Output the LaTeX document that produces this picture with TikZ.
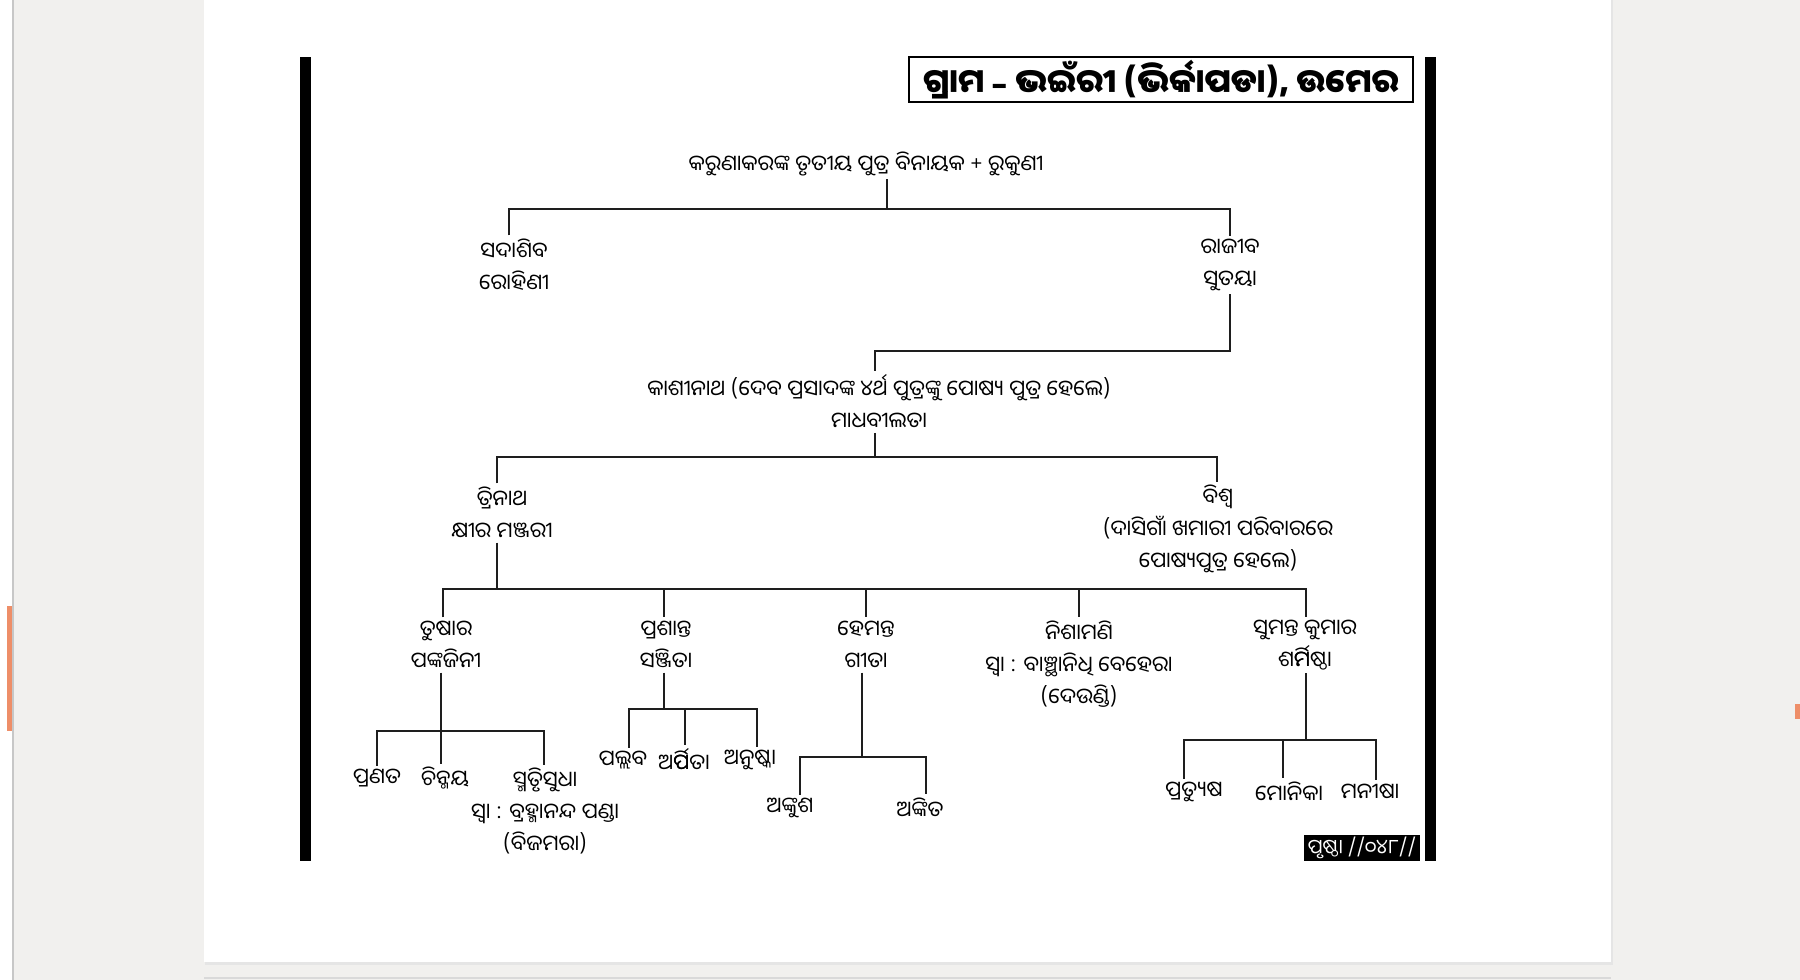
\documentclass[tikz,border=0pt]{standalone}
\usepackage{fontspec}
\newfontfamily\odia[Script=Oriya]{Noto Sans Oriya UI}
\newfontfamily\dejavu{DejaVu Sans}
\newcommand\rephI[1]{\rlap{ର୍#1}#1ି}
\definecolor{bggray}{RGB}{241,240,238}
\definecolor{tabmark}{RGB}{238,142,104}
\definecolor{linec}{RGB}{30,30,30}
\begin{document}
\begin{tikzpicture}[x=0.5pt,y=-0.5pt,
  person/.style={align=center,inner xsep=0pt,inner ysep=1.5pt,font=\odia\fontsize{10.8}{16}\selectfont},
  conn/.style={line width=0.8pt,draw=linec},
  titlebox/.style={draw,line width=0.8pt,minimum width=252pt,minimum height=22.5pt,inner sep=0pt,font=\odia\bfseries\fontsize{16.5}{19}\selectfont},
  pagebox/.style={fill=black,text=white,minimum width=58pt,minimum height=13pt,inner sep=0pt,font=\odia\fontsize{10}{12}\selectfont}]
\useasboundingbox (0,0) rectangle (1800,980);
% screen background
\fill[bggray] (0,0) rectangle (1800,980);
\fill[white] (0,0) rectangle (13,980);
\draw[black!22,line width=1pt] (13,0) -- (13,980);
\fill[tabmark] (7,606) rectangle (12,731);
\fill[tabmark] (1795,704) rectangle (1800,719);
\fill[black!10] (205,0) rectangle (1613,965);
\fill[white] (204,0) rectangle (1611,962);
\draw[black!15,line width=0.6pt] (204,978) -- (1611,978);
% frame bars
\fill[black] (300,57) rectangle (311,861);
\fill[black] (1425,57) rectangle (1436,861);
% title and page
\node[titlebox] (title) at (1161,79.5) {ଗ୍ରାମ {\dejavu\bfseries –} ଭଇଁରୀ (ଭିର୍କାପଡା), ଉମେର};
\node[pagebox] (page) at (1362,848) {ପୃଷ୍ଠା //୦୪୮//};
% people
\node[person] (root) at (866,164) {କରୁଣାକରଙ୍କ ତୃତୀୟ ପୁତ୍ର ବିନାୟକ + ରୁକୁଣୀ};
\node[person] (sada) at (514,265) {ସଦାଶିବ\\ରୋହିଣୀ};
\node[person] (raji) at (1230,265) {ରାଜୀବ\\ସୁତୟା};
\node[person] (kashi) at (879,402) {କାଶୀନାଥ (ଦେବ ପ୍ରସାଦଙ୍କ ୪ର୍ଥ ପୁତ୍ରଙ୍କୁ ପୋଷ୍ୟ ପୁତ୍ର ହେଲେ)\\ମାଧବୀଲତା};
\node[person] (tri) at (502,513) {ତ୍ରିନାଥ\\କ୍ଷୀର ମଞ୍ଜରୀ};
\node[person] (vish) at (1218,529) {ବିଶ୍ୱ\\(ଦାସିଗାଁ ଖମାରୀ ପରିବାରରେ\\ପୋଷ୍ୟପୁତ୍ର ହେଲେ)};
\node[person] (tush) at (446,645) {ତୁଷାର\\ପଙ୍କଜିନୀ};
\node[person] (pras) at (666,645) {ପ୍ରଶାନ୍ତ\\ସଞ୍ଜିତା};
\node[person] (hema) at (866,645) {ହେମନ୍ତ\\ଗୀତା};
\node[person] (nish) at (1079,664) {ନିଶାମଣି\\ସ୍ୱା : ବାଞ୍ଛାନିଧି ବେହେରା\\(ଦେଉଣ୍ଡି)};
\node[person] (suma) at (1305,645) {ସୁମନ୍ତ କୁମାର\\ଶ\rephI{ମ}ଷ୍ଠା};
\node[person] (pran) at (377,778) {ପ୍ରଣତ};
\node[person] (chin) at (445,778) {ଚିନ୍ମୟ};
\node[person] (smru) at (545,811) {ସ୍ମୃତିସୁଧା\\ସ୍ୱା : ବ୍ରହ୍ମାନନ୍ଦ ପଣ୍ଡା\\(ବିଜମରା)};
\node[person] (pall) at (623,760) {ପଲ୍ଲବ};
\node[person] (arpi) at (684,760) {ଅ\rephI{ପ}ତା};
\node[person] (anus) at (750,760) {ଅନୁଷ୍କା};
\node[person] (anku) at (790,808) {ଅଙ୍କୁଶ};
\node[person] (anki) at (920,808) {ଅଙ୍କିତ};
\node[person] (prat) at (1194,792) {ପ୍ରତ୍ୟୁଷ};
\node[person] (moni) at (1289,792) {ମୋନିକା};
\node[person] (mani) at (1370,792) {ମନୀଷା};
% junction coordinates
\coordinate (rj) at (887,209); \coordinate (rl) at (509,209); \coordinate (rr) at (1230,209);
\coordinate (kr) at (1230,351); \coordinate (kl) at (875,351);
\coordinate (kj) at (875,457); \coordinate (kbl) at (497,457); \coordinate (kbr) at (1217,457);
\coordinate (tj) at (497,589); \coordinate (c1) at (443,589); \coordinate (c2) at (664,589);
\coordinate (c3) at (866,589); \coordinate (c4) at (1079,589); \coordinate (c5) at (1306,589);
\coordinate (tu) at (441,731); \coordinate (tl) at (377,731); \coordinate (tr) at (544,731);
\coordinate (pj) at (664,709); \coordinate (pl) at (629,709); \coordinate (pm) at (685,709); \coordinate (pr) at (757,709);
\coordinate (hj) at (862,757); \coordinate (hl) at (800,757); \coordinate (hr) at (926,757);
\coordinate (sj) at (1306,740); \coordinate (sl) at (1184,740); \coordinate (sm) at (1283,740); \coordinate (sr) at (1376,740);
% connectors
\draw[conn] (root.south -| rj) -- (rj);
\draw[conn] (sada.north -| rl) -- (rl) -- (rr) -- (raji.north -| rr);
\draw[conn] (raji.south -| kr) -- (kr) -- (kl) -- (kashi.north -| kl);
\draw[conn] (kashi.south -| kj) -- (kj);
\draw[conn] (tri.north -| kbl) -- (kbl) -- (kbr) -- (vish.north -| kbr);
\draw[conn] (tri.south -| tj) -- (tj);
\draw[conn] (tush.north -| c1) -- (c1) -- (c5) -- (suma.north -| c5);
\draw[conn] (c2) -- (pras.north -| c2);
\draw[conn] (c3) -- (hema.north -| c3);
\draw[conn] (c4) -- (nish.north -| c4);
\draw[conn] (tush.south -| tu) -- (chin.north -| tu);
\draw[conn] (pran.north -| tl) -- (tl) -- (tr) -- (smru.north -| tr);
\draw[conn] (pras.south -| pj) -- (pj);
\draw[conn] (pall.north -| pl) -- (pl) -- (pr) -- (anus.north -| pr);
\draw[conn] (pm) -- (arpi.north -| pm);
\draw[conn] (hema.south -| hj) -- (hj);
\draw[conn] (anku.north -| hl) -- (hl) -- (hr) -- (anki.north -| hr);
\draw[conn] (suma.south -| sj) -- (sj);
\draw[conn] (prat.north -| sl) -- (sl) -- (sr) -- (mani.north -| sr);
\draw[conn] (sm) -- (moni.north -| sm);
\end{tikzpicture}
\end{document}
